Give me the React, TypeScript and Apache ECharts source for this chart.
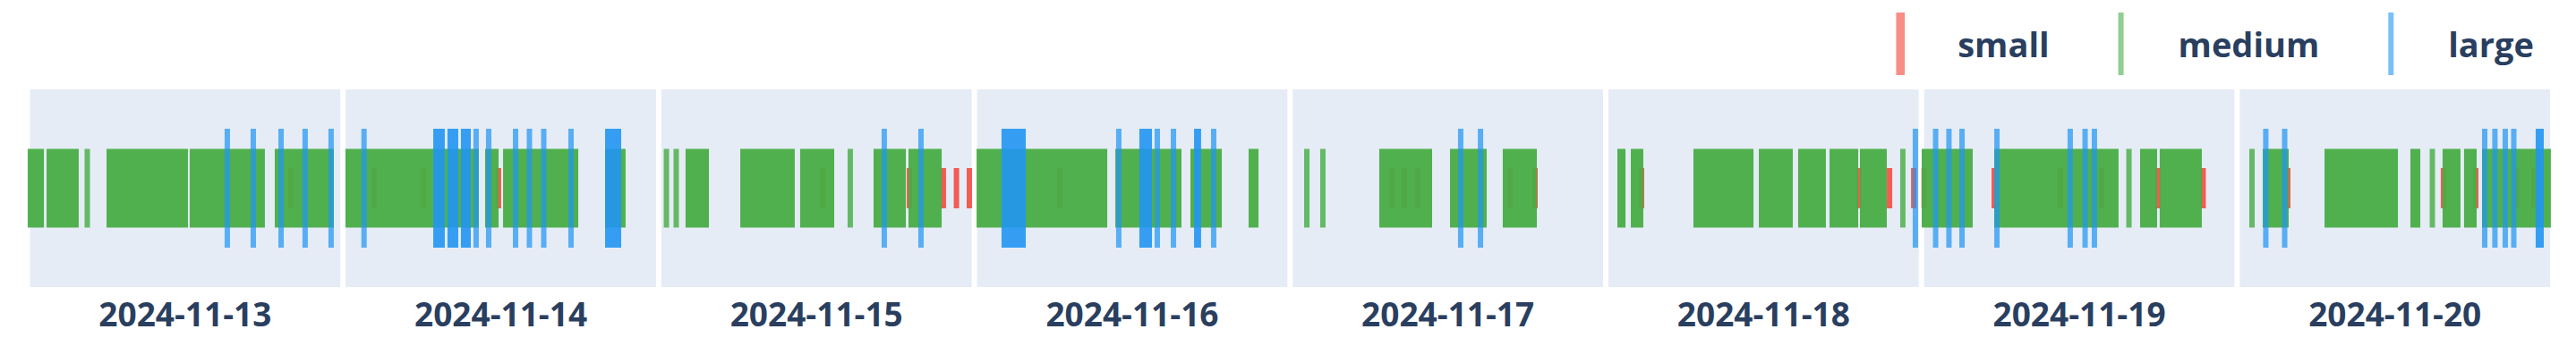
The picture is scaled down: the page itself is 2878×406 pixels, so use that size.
import React, { useEffect, useRef } from 'react';
import * as echarts from 'echarts';

// Days shown as facets
const DAYS = ['2024-11-13', '2024-11-14', '2024-11-15', '2024-11-16', '2024-11-17', '2024-11-18', '2024-11-19', '2024-11-20'];

// Events: [dayIndex, fromHour, toHour] (a single event has fromHour === toHour)
const SMALL: number[][] = [
  [0, 20.18, 20.18],
  [1, 2.2, 2.2], [1, 6.01, 6.01], [1, 11.82, 11.82],
  [2, 12.47, 12.47], [2, 19.18, 19.18], [2, 21.81, 21.81], [2, 22.82, 22.82], [2, 23.82, 23.82],
  [3, 6.4, 6.4],
  [4, 7.66, 7.66], [4, 8.63, 8.63], [4, 9.67, 9.67], [4, 16.8, 16.8], [4, 18.74, 18.74],
  [5, 2.56, 2.56], [5, 19.38, 19.38], [5, 21.74, 21.74], [5, 23.61, 23.61],
  [6, 0.0, 0.0], [6, 5.42, 5.42], [6, 10.54, 10.54], [6, 13.73, 13.73], [6, 18.09, 18.09], [6, 21.58, 21.58],
  [7, 3.71, 3.71], [7, 15.75, 15.75], [7, 18.25, 18.25], [7, 21.43, 21.43], [7, 22.75, 22.75],
];

const MEDIUM: number[][] = [
  [0, 0.03, 0.87], [0, 1.49, 3.56], [0, 4.43, 4.43], [0, 6.13, 12.01], [0, 12.56, 17.96], [0, 19.14, 23.29],
  [1, 0.19, 10.09], [1, 10.99, 11.62], [1, 12.38, 17.78], [1, 20.27, 21.44],
  [2, 0.39, 0.39], [2, 1.15, 1.15], [2, 2.08, 3.47], [2, 6.31, 10.11], [2, 10.94, 13.16], [2, 14.61, 14.61], [2, 16.62, 18.7], [2, 19.32, 21.47],
  [3, 0.17, 9.86], [3, 10.9, 15.6], [3, 16.71, 18.72], [3, 21.21, 21.56],
  [4, 1.09, 1.09], [4, 2.33, 2.33], [4, 6.9, 10.57], [4, 12.37, 14.79], [4, 16.45, 18.67],
  [5, 0.9, 1.11], [5, 1.94, 2.49], [5, 6.78, 11.01], [5, 11.84, 14.05], [5, 14.88, 16.61], [5, 17.31, 19.11], [5, 19.66, 21.32], [5, 22.77, 22.77],
  [6, 0.02, 3.55], [6, 5.63, 14.83], [6, 15.84, 15.84], [6, 16.91, 17.81], [6, 18.43, 21.27],
  [7, 0.94, 0.94], [7, 1.98, 3.57], [7, 6.76, 12.02], [7, 13.4, 13.75], [7, 14.89, 14.89], [7, 15.89, 16.86], [7, 17.55, 18.11], [7, 18.94, 23.85],
];

const LARGE: number[][] = [
  [0, 15.26, 15.26], [0, 17.27, 17.27], [0, 19.42, 19.42], [0, 21.28, 21.28], [0, 23.29, 23.29],
  [1, 1.42, 1.42], [1, 6.98, 7.46], [1, 8.08, 8.5], [1, 9.12, 9.47], [1, 10.09, 10.09], [1, 11.06, 11.06], [1, 13.14, 13.14], [1, 14.21, 14.21], [1, 15.32, 15.32], [1, 17.43, 17.43], [1, 20.27, 21.1],
  [2, 17.24, 17.24], [2, 20.08, 20.08],
  [3, 2.1, 3.56], [3, 10.96, 10.96], [3, 12.76, 13.32], [3, 13.94, 13.94], [3, 15.19, 15.19], [3, 16.99, 17.12], [3, 18.3, 18.3],
  [4, 12.99, 12.99], [4, 14.52, 14.52],
  [5, 23.74, 23.74],
  [6, 0.89, 0.89], [6, 1.92, 1.92], [6, 2.93, 2.93], [6, 5.63, 5.63], [6, 11.3, 11.3], [6, 12.45, 12.45], [6, 13.17, 13.17],
  [7, 2.01, 2.01], [7, 3.47, 3.47], [7, 18.94, 18.94], [7, 19.73, 19.73], [7, 20.53, 20.53], [7, 21.19, 21.19], [7, 23.09, 23.3],
];

const CATEGORIES = ['small', 'medium', 'large'];

export default function App() {
  const ref = useRef<HTMLDivElement>(null);
  useEffect(() => {
    const chart = echarts.init(ref.current!, null, { renderer: 'svg' });
    const textColor = '#2a3f5f';
    const font = "'Open Sans', 'Noto Sans', sans-serif";
    const left0 = 33.5, step = 352.7, w = 346.7;
    const styles: Record<string, { color: string; h: number; single: number; span: number; legendIcon: string }> = {
      small: { color: '#F44336', h: 45, single: 0.85, span: 0.9, legendIcon: 'path://M0,0H6V44H0Z' },
      medium: { color: '#48AD45', h: 88, single: 0.82, span: 0.95, legendIcon: 'path://M0,0H6V70H0Z' },
      large: { color: '#2196F3', h: 133, single: 0.72, span: 0.9, legendIcon: 'path://M0,0H6V70H0Z' },
    };
    const dataByCat: Record<string, number[][]> = { small: SMALL, medium: MEDIUM, large: LARGE };

    const grid = DAYS.map((_, i) => ({
      show: true, backgroundColor: '#E5ECF6', borderWidth: 0,
      left: left0 + i * step, top: 100, width: w, height: 221,
    }));
    const xAxis = DAYS.map((d, i) => ({
      gridIndex: i, type: 'value', min: 0, max: 24,
      axisLine: { show: false }, axisTick: { show: false }, axisLabel: { show: false }, splitLine: { show: false },
      name: d, nameLocation: 'middle', nameGap: 29,
      nameTextStyle: { fontSize: 37, fontWeight: 'bold', color: textColor, fontFamily: font, verticalAlign: 'middle' },
    }));
    const yAxis = DAYS.map((_, i) => ({ gridIndex: i, type: 'value', min: 0, max: 1, show: false }));

    const series: any[] = [];
    CATEGORIES.forEach((cat) => {
      const st = styles[cat];
      DAYS.forEach((_, i) => {
        series.push({
          type: 'custom', name: cat, xAxisIndex: i, yAxisIndex: i, clip: false, silent: true,
          itemStyle: { color: st.color },
          data: dataByCat[cat].filter((r) => r[0] === i).map((r) => [r[1], r[2]]),
          encode: { x: [0, 1] },
          renderItem: (params: any, api: any) => {
            const a = api.coord([api.value(0), 0.5]);
            const b = api.coord([api.value(1), 0.5]);
            const isSpan = b[0] - a[0] > 0.5;
            return {
              type: 'rect',
              shape: { x: a[0] - 3, y: a[1] - st.h / 2, width: b[0] - a[0] + 6, height: st.h },
              style: { fill: st.color, opacity: isSpan ? st.span : st.single },
            };
          },
        });
      });
    });

    chart.setOption({
      animation: false,
      backgroundColor: '#ffffff',
      legend: {
        right: 47, top: 14, padding: 0, align: 'left',
        itemWidth: 118, itemHeight: 70, itemGap: 77,
        selectedMode: false,
        textStyle: { fontSize: 38, fontWeight: 'bold', color: textColor, fontFamily: font },
        data: CATEGORIES.map((c) => ({
          name: c, icon: styles[c].legendIcon,
          itemStyle: { color: styles[c].color, opacity: 0.6 },
        })),
      },
      grid, xAxis, yAxis, series,
    });
    return () => chart.dispose();
  }, []);
  return <div ref={ref} style={{ position: 'fixed', left: 0, top: 0, width: 2878, height: 406 }} />;
}
